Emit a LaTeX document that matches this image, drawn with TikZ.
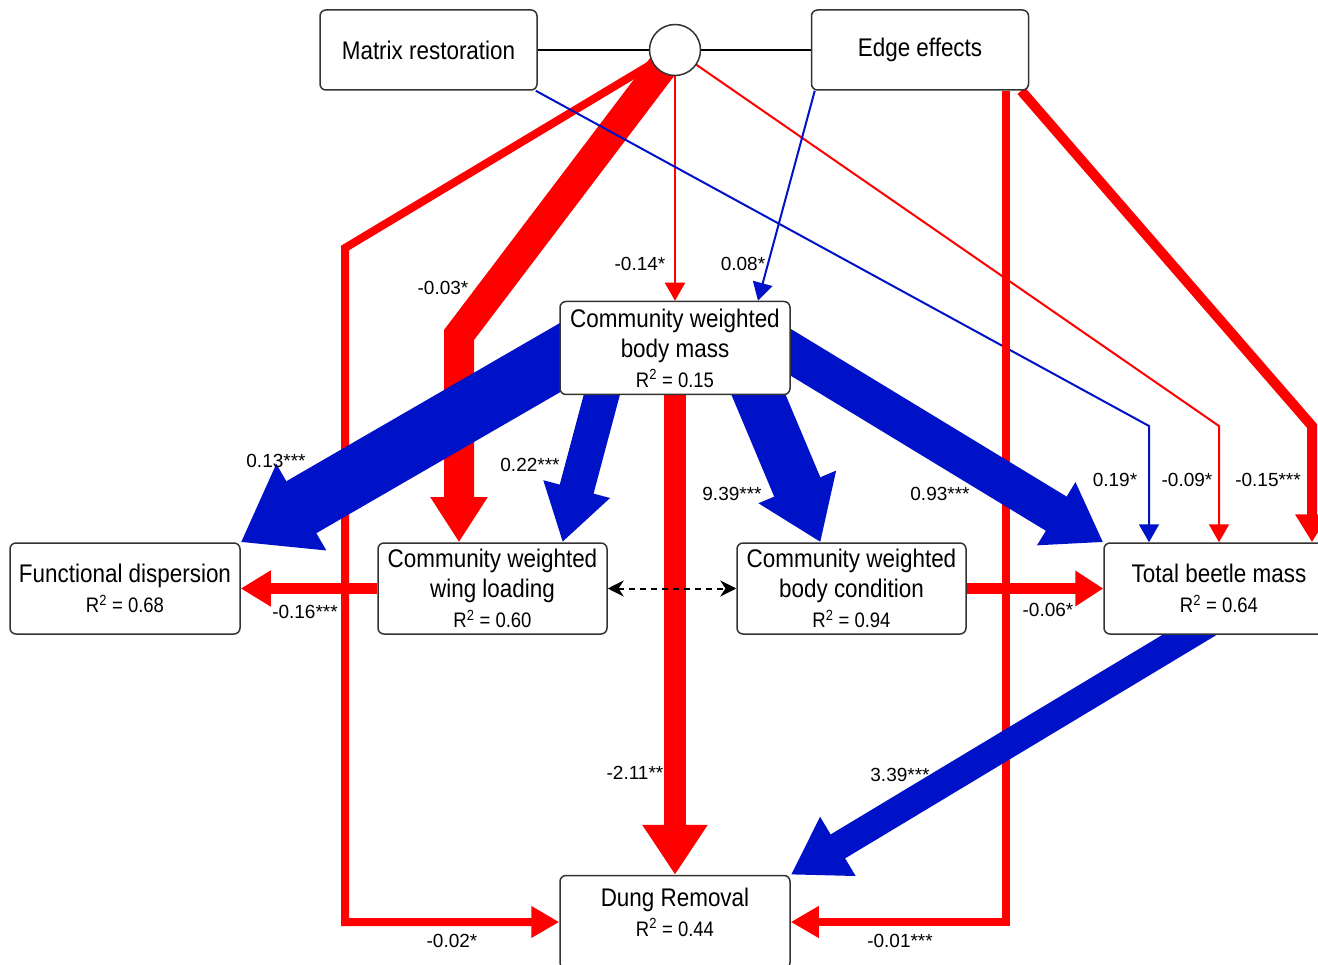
\documentclass[tikz,border=0pt]{standalone}
\usepackage{fontspec}
\setmainfont{Liberation Sans}[FakeStretch=0.88]
\newfontfamily\lblfont{Liberation Sans}
\usetikzlibrary{arrows.meta,backgrounds}
\definecolor{negred}{RGB}{255,0,0}
\definecolor{posblue}{RGB}{0,18,200}
\tikzset{every picture/.style={line width=0.75pt},
	box/.style={draw=black!80,line width=1.5pt,rounded corners=6pt,fill=white,align=center,inner sep=0pt,minimum width=230pt,minimum height=91pt,font=\fontsize{25.5}{30}\selectfont},
	lbl/.style={font=\lblfont\fontsize{19}{20}\selectfont,inner sep=0pt},
	flow/.style n args={3}{line width=#1,-{Triangle[width=#2,length=#3]}}}
\newcommand{\rsq}[1]{{\fontsize{21}{30}\selectfont R\textsuperscript{2} = #1}}

\begin{document}
\begin{tikzpicture}[x=1pt,y=-1pt,>={Stealth[width=16pt,length=16pt]}]
	\useasboundingbox (0,0) rectangle (1318,965);
	%Khung tren
	\node[box,minimum width=217pt,minimum height=80pt] (mr) at (428.5,50) {Matrix restoration};
	\node[box,minimum width=217pt,minimum height=80pt] (ee) at (920,50) {Edge effects};
	\node[circle,draw=black!80,line width=1.5pt,fill=white,minimum size=51pt,inner sep=0pt] (c) at (675,50) {};
	%Khung giua
	\node[box,minimum height=93pt] (bm) at (675,348) {Community weighted\\body mass\\\rsq{0.15}};
	\node[box] (fd) at (125,588.5) {Functional dispersion\\\rsq{0.68}};
	\node[box,minimum width=229pt] (wl) at (492.5,588.5) {Community weighted\\wing loading\\\rsq{0.60}};
	\node[box,minimum width=229pt] (bc) at (851.5,588.5) {Community weighted\\body condition\\\rsq{0.94}};
	\node[box] (tbm) at (1219,588.5) {Total beetle mass\\\rsq{0.64}};
	%Khung duoi
	\node[box,minimum height=93pt] (dr) at (675,922) {Dung Removal\\\rsq{0.44}\\[-10pt]\mbox{}};
	%Diem gay
	\coordinate (b1) at (345,248);
	\coordinate (b2) at (459,335);
	\coordinate (b3) at (1149,426);
	\coordinate (b4) at (1219,426);
	\coordinate (b5) at (1312,426);
	\begin{scope}[on background layer]
	\draw[line width=2.5pt] (mr.east) -- (ee.west);
	%Mui ten tu vong tron
	\draw[negred,flow={8pt}{30pt}{28pt}] (c.center) -- (b1) |- (dr.west);
	\draw[negred,flow={30pt}{54pt}{45pt}] (c.center) -- (b2) -- (b2 |- wl.north);
	\draw[negred,flow={2pt}{20pt}{18pt}] (c.center) -- (bm.north);
	\draw[negred,flow={2pt}{20pt}{18pt}] (c.center) -- (b4) -- (tbm.north);
	%Mui ten tu Matrix, Edge
	\draw[posblue,flow={2pt}{20pt}{18pt}] ([xshift=-2pt]mr.south east) -- (b3) -- (b3 |- tbm.north);
	\draw[posblue,flow={2pt}{20pt}{18pt}] ([xshift=4pt]ee.south west) -- ([xshift=83pt]bm.north);
	\draw[negred,flow={8pt}{30pt}{28pt}] ([xshift=86pt]ee.south) |- (dr.east);
	\draw[negred,flow={10pt}{32pt}{28pt}] ([xshift=-8pt]ee.south east) -- (b5) -- (b5 |- tbm.north);
	%Mui ten tu body mass
	\draw[posblue,flow={60pt}{95pt}{70pt}] ([xshift=45pt,yshift=16pt]bm.west) -- (fd.north east);
	\draw[posblue,flow={35pt}{65pt}{55pt}] ([xshift=-64pt,yshift=35pt]bm.south) -- ([xshift=70pt]wl.north);
	\draw[posblue,flow={50pt}{80pt}{60pt}] ([xshift=69pt,yshift=35pt]bm.south) -- ([xshift=-31pt]bc.north);
	\draw[posblue,flow={40pt}{70pt}{55pt}] ([xshift=-40pt,yshift=20pt]bm.east) -- (tbm.north west);
	\draw[negred,flow={22pt}{62pt}{50pt}] (bm.center) -- (dr.north);
	%Mui ten ngang
	\draw[negred,flow={11pt}{34pt}{30pt}] (wl.west) -- (fd.east);
	\draw[negred,flow={11pt}{34pt}{28pt}] (bc.east) -- (tbm.west);
	\draw[<->,dashed,line width=2pt,dash pattern=on 6pt off 5pt] (wl.east) -- (bc.west);
	\draw[posblue,flow={28pt}{65pt}{55pt}] ([xshift=21pt,yshift=-16pt]tbm.center) -- (dr.north east);
	\end{scope}
	%He so
	\node[lbl] (l1) at (443,288) {-0.03*};
	\node[lbl] (l2) at (640,264) {-0.14*};
	\node[lbl] (l3) at (743,264) {0.08*};
	\node[lbl] (l4) at (276,461) {0.13***};
	\node[lbl] (l5) at (530,465) {0.22***};
	\node[lbl] (l6) at (732,494) {9.39***};
	\node[lbl] (l7) at (940,494) {0.93***};
	\node[lbl] (l8) at (1115,480) {0.19*};
	\node[lbl] (l9) at (1187,480) {-0.09*};
	\node[lbl] (l10) at (1268,480) {-0.15***};
	\node[lbl] (l11) at (305,612) {-0.16***};
	\node[lbl] (l12) at (1048,610) {-0.06*};
	\node[lbl] (l13) at (635,773) {-2.11**};
	\node[lbl] (l14) at (900,775) {3.39***};
	\node[lbl] (l15) at (452,941) {-0.02*};
	\node[lbl] (l16) at (900,941) {-0.01***};
\end{tikzpicture}
\end{document}
